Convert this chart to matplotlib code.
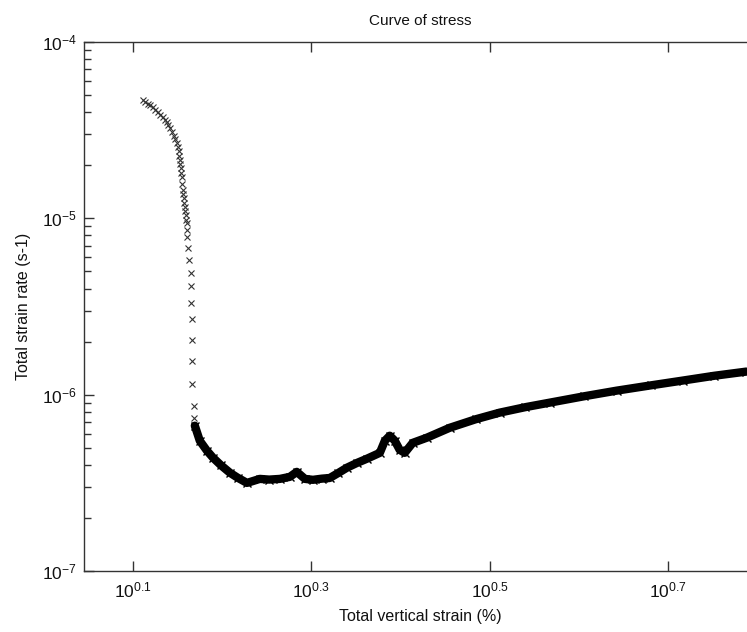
#!/usr/bin/env python3
"""
Curve of stress - log-log plot of total strain rate vs total vertical strain
"""

import matplotlib
matplotlib.use("Agg")
import matplotlib.pyplot as plt
from matplotlib.ticker import FixedLocator, LogLocator, NullFormatter, NullLocator

# early part: individual markers (steep drop)
strain_sparse = [1.291, 1.300, 1.308, 1.317, 1.326, 1.334, 1.343, 1.351, 1.360,
                 1.366, 1.373, 1.379, 1.385, 1.391, 1.398, 1.404, 1.410, 1.413,
                 1.416, 1.419, 1.421, 1.423, 1.425, 1.427, 1.428, 1.430, 1.432,
                 1.434, 1.436, 1.438, 1.439, 1.441, 1.443, 1.445, 1.447, 1.447,
                 1.449, 1.451, 1.455, 1.462, 1.462, 1.462, 1.466, 1.466, 1.466,
                 1.466, 1.473, 1.473]
rate_sparse = [4.68e-5, 4.58e-5, 4.48e-5, 4.38e-5, 4.27e-5, 4.14e-5, 4.00e-5,
               3.88e-5, 3.75e-5, 3.62e-5, 3.50e-5, 3.37e-5, 3.24e-5, 3.10e-5,
               2.95e-5, 2.81e-5, 2.67e-5, 2.53e-5, 2.40e-5, 2.27e-5, 2.14e-5,
               2.03e-5, 1.92e-5, 1.81e-5, 1.71e-5, 1.57e-5, 1.44e-5, 1.37e-5,
               1.30e-5, 1.22e-5, 1.155e-5, 1.10e-5, 1.04e-5, 9.85e-6, 9.38e-6,
               8.55e-6, 7.80e-6, 6.76e-6, 5.77e-6, 4.87e-6, 4.11e-6, 3.33e-6,
               2.67e-6, 2.05e-6, 1.56e-6, 1.155e-6, 8.66e-7, 7.40e-7]

# later part: very dense samples that merge into a thick band
strain_dense = [1.477, 1.496, 1.524, 1.548, 1.580, 1.617, 1.650, 1.690, 1.747,
                1.790, 1.840, 1.888, 1.922, 1.963, 2.004, 2.050, 2.093, 2.140,
                2.187, 2.245, 2.303, 2.382, 2.413, 2.444, 2.476, 2.507, 2.540,
                2.593, 2.689, 2.853, 3.050, 3.246, 3.470, 3.693, 4.040, 4.391,
                4.800, 5.206, 5.650, 6.140]
rate_dense = [6.67e-7, 5.48e-7, 4.81e-7, 4.39e-7, 3.98e-7, 3.61e-7, 3.38e-7,
              3.16e-7, 3.33e-7, 3.30e-7, 3.33e-7, 3.42e-7, 3.65e-7, 3.33e-7,
              3.29e-7, 3.34e-7, 3.37e-7, 3.60e-7, 3.85e-7, 4.10e-7, 4.33e-7,
              4.68e-7, 5.48e-7, 5.85e-7, 5.48e-7, 4.87e-7, 4.68e-7, 5.33e-7,
              5.70e-7, 6.49e-7, 7.25e-7, 7.91e-7, 8.50e-7, 9.01e-7, 9.80e-7,
              1.054e-6, 1.13e-6, 1.202e-6, 1.28e-6, 1.352e-6]

x_ticks = [10 ** 0.1, 10 ** 0.3, 10 ** 0.5, 10 ** 0.7]
x_tick_labels = ["0.1", "0.3", "0.5", "0.7"]
y_ticks = [1e-7, 1e-6, 1e-5, 1e-4]
y_tick_labels = ["-7", "-6", "-5", "-4"]

plt.rcParams['font.family'] = ['Liberation Sans', 'DejaVu Sans']
plt.rcParams['mathtext.fontset'] = 'custom'
plt.rcParams['mathtext.rm'] = 'Liberation Sans'
plt.rcParams['mathtext.it'] = 'Liberation Sans'

fig = plt.figure(figsize=(7.47, 6.32), dpi=100)
ax = fig.add_axes([0.1124, 0.0965, 0.9009, 0.837])

ink = '#111111'
ax.plot(strain_dense, rate_dense, '-', color='black', linewidth=6,
        solid_capstyle='round', solid_joinstyle='round')
ax.plot(strain_dense, rate_dense, 'x', color='black', markersize=5.5,
        markeredgewidth=1.0)
ax.plot(strain_sparse, rate_sparse, 'x', color='#333333', markersize=5,
        markeredgewidth=0.8, linestyle='none')

ax.set_xscale('log')
ax.set_yscale('log')
ax.set_xlim(10 ** 0.045, 10 ** 0.8)
ax.set_ylim(1e-7, 1e-4)

ax.xaxis.set_major_locator(FixedLocator(x_ticks))
ax.xaxis.set_minor_locator(NullLocator())
ax.set_xticklabels([r'$10^{%s}$' % s for s in x_tick_labels])
ax.yaxis.set_major_locator(FixedLocator(y_ticks))
ax.yaxis.set_minor_locator(LogLocator(base=10, subs=range(2, 10)))
ax.yaxis.set_minor_formatter(NullFormatter())
ax.set_yticklabels([r'$10^{%s}$' % s for s in y_tick_labels])

ax.tick_params(which='both', direction='in', top=True, right=True,
               color='#333333', labelsize=12.5, labelcolor=ink)
ax.tick_params(which='major', length=7, width=1)
ax.tick_params(which='minor', length=5, width=1)
ax.tick_params(axis='x', pad=7)
ax.tick_params(axis='y', pad=5)
for sp in ax.spines.values():
    sp.set_color('#333333')
    sp.set_linewidth(1)

ax.set_title('Curve of stress', fontsize=11, color=ink, pad=12)
ax.set_xlabel('Total vertical strain (%)', fontsize=11.5, color=ink, labelpad=6)
ax.set_ylabel('Total strain rate (s-1)', fontsize=11.5, color=ink, labelpad=8)

fig.savefig('out.png', dpi=100)
